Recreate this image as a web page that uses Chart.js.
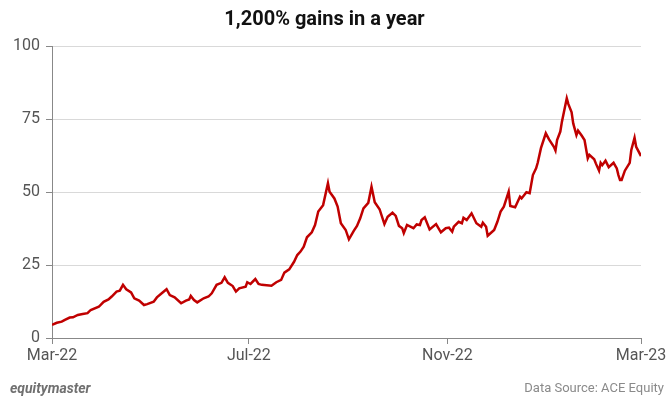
<!DOCTYPE html>
<html lang="en">
<head>
    <meta charset="UTF-8">
    <title>1,200% gains in a year</title>
    <script src="https://cdn.jsdelivr.net/npm/chart.js"></script>
    <style>
        body {
            margin: 0;
            padding: 0;
            background: #fff;
            font-family: Roboto, Arial, sans-serif;
        }
        #wrap {
            position: relative;
            width: 672px;
            height: 408px;
        }
        .foot {
            position: absolute;
            top: 380px;
            font-size: 13px;
            color: #8a8a8a;
        }
        #brand {
            left: 10px;
            font-size: 14px;
            font-style: italic;
            font-weight: bold;
            color: #707070;
        }
        #source {
            right: 8px;
        }
    </style>
</head>
<body>
    <div id="wrap">
        <canvas id="priceChart" width="672" height="408"></canvas>
        <div class="foot" id="brand">equitymaster</div>
        <div class="foot" id="source">Data Source: ACE Equity</div>
    </div>

    <script>
        // days since 1 Mar 2022, and the share price (Rs) on that day
        const days = [
            0, 3, 6, 8, 11, 13, 16, 19, 22, 24, 29, 32, 35, 37, 40, 42, 44, 46, 49, 51,
            54, 57, 59, 63, 65, 68, 71, 73, 76, 80, 83, 85, 86, 88, 90, 94, 97, 99, 102, 105,
            107, 109, 112, 114, 116, 120, 121, 123, 126, 128, 130, 136, 139, 142, 144, 147, 150, 152, 154, 156,
            158, 161, 163, 165, 168, 171, 172, 175, 177, 179, 182, 184, 187, 189, 191, 193, 196, 198, 200, 203,
            206, 208, 211, 213, 215, 217, 218, 220, 224, 226, 228, 229, 231, 234, 238, 241, 244, 246, 248, 249,
            252, 254, 255, 257, 260, 263, 266, 267, 269, 270, 274, 276, 278, 280, 283, 284, 287, 290, 291, 294,
            296, 298, 300, 301, 303, 306, 308, 311, 312, 313, 315, 316, 319, 320, 322, 323, 325, 326, 328, 330,
            332, 333, 336, 337, 339, 340, 341, 343, 345, 348, 350, 351, 352, 353, 355, 358, 359, 361, 362, 365
        ];
        const prices = [
            4.5, 5.2, 5.6, 6.2, 7.0, 7.1, 7.9, 8.2, 8.5, 9.6, 10.7, 12.4, 13.2, 14.2, 15.9, 16.2, 18.2, 16.7, 15.6, 13.6,
            12.8, 11.3, 11.6, 12.4, 13.9, 15.3, 16.7, 14.7, 13.9, 11.9, 12.8, 13.2, 14.4, 13.0, 12.2, 13.6, 14.2, 15.3, 18.2, 18.9,
            20.8, 18.9, 17.8, 15.9, 17.0, 17.6, 19.1, 18.5, 20.2, 18.5, 18.2, 17.9, 19.1, 19.9, 22.4, 23.5, 26.1, 28.4, 29.6, 31.3,
            34.5, 36.2, 38.7, 43.3, 45.5, 53.0, 50.1, 47.8, 45.0, 39.3, 37.0, 33.8, 36.7, 38.4, 41.0, 44.4, 46.3, 51.8, 46.5, 44.1,
            39.0, 41.5, 42.9, 41.8, 38.4, 37.6, 35.9, 38.7, 37.6, 38.9, 38.7, 40.4, 41.3, 37.2, 39.0, 36.2, 37.6, 37.8, 36.4, 38.1,
            39.8, 39.3, 41.2, 40.4, 42.7, 39.3, 38.1, 39.5, 38.1, 35.0, 37.0, 39.8, 43.3, 45.0, 50.1, 45.2, 44.8, 48.4, 47.8, 49.9,
            49.6, 55.8, 58.1, 60.0, 65.0, 70.1, 68.0, 65.5, 64.2, 67.8, 70.7, 74.1, 82.1, 80.1, 77.3, 73.5, 69.5, 71.0, 69.5, 67.8,
            61.5, 62.7, 61.2, 59.8, 57.3, 60.0, 59.2, 60.7, 58.5, 60.0, 58.1, 55.8, 54.1, 54.1, 57.3, 60.0, 64.4, 68.6, 65.5, 62.3
        ];
        const tickDays = [0, 122, 245, 365];
        const tickLabels = ['Mar-22', 'Jul-22', 'Nov-22', 'Mar-23'];

        const points = days.map((d, i) => ({ x: d, y: prices[i] }));

        new Chart(document.getElementById('priceChart'), {
            type: 'line',
            data: {
                datasets: [{
                    data: points,
                    borderColor: '#c00000',
                    borderWidth: 2.5,
                    pointRadius: 0,
                    tension: 0,
                    fill: false
                }]
            },
            options: {
                responsive: false,
                animation: false,
                layout: { padding: { left: 8, right: 31, top: 0, bottom: 40 } },
                plugins: {
                    legend: { display: false },
                    tooltip: { enabled: false },
                    title: {
                        display: true,
                        text: '1,200% gains in a year',
                        color: '#111',
                        font: { family: 'Roboto', size: 20, weight: 'bold' },
                        padding: { top: 8, bottom: 14 }
                    }
                },
                scales: {
                    x: {
                        type: 'linear',
                        min: 0,
                        max: 365,
                        afterBuildTicks: scale => {
                            scale.ticks = tickDays.map(v => ({ value: v }));
                        },
                        afterFit: scale => { scale.height = 30; },
                        ticks: {
                            autoSkip: false,
                            maxRotation: 0,
                            color: '#555',
                            font: { family: 'Roboto', size: 16 },
                            padding: 2,
                            callback: v => tickLabels[tickDays.indexOf(v)]
                        },
                        grid: {
                            drawOnChartArea: false,
                            tickColor: '#888',
                            tickLength: 6
                        },
                        border: { color: '#888' }
                    },
                    y: {
                        min: 0,
                        max: 100,
                        afterFit: scale => { scale.width = 44; },
                        ticks: {
                            stepSize: 25,
                            color: '#555',
                            font: { family: 'Roboto', size: 16 },
                            padding: 6
                        },
                        grid: {
                            color: '#d9d9d9',
                            tickColor: '#888',
                            tickLength: 6
                        },
                        border: { color: '#888' }
                    }
                }
            }
        });
    </script>
</body>
</html>
